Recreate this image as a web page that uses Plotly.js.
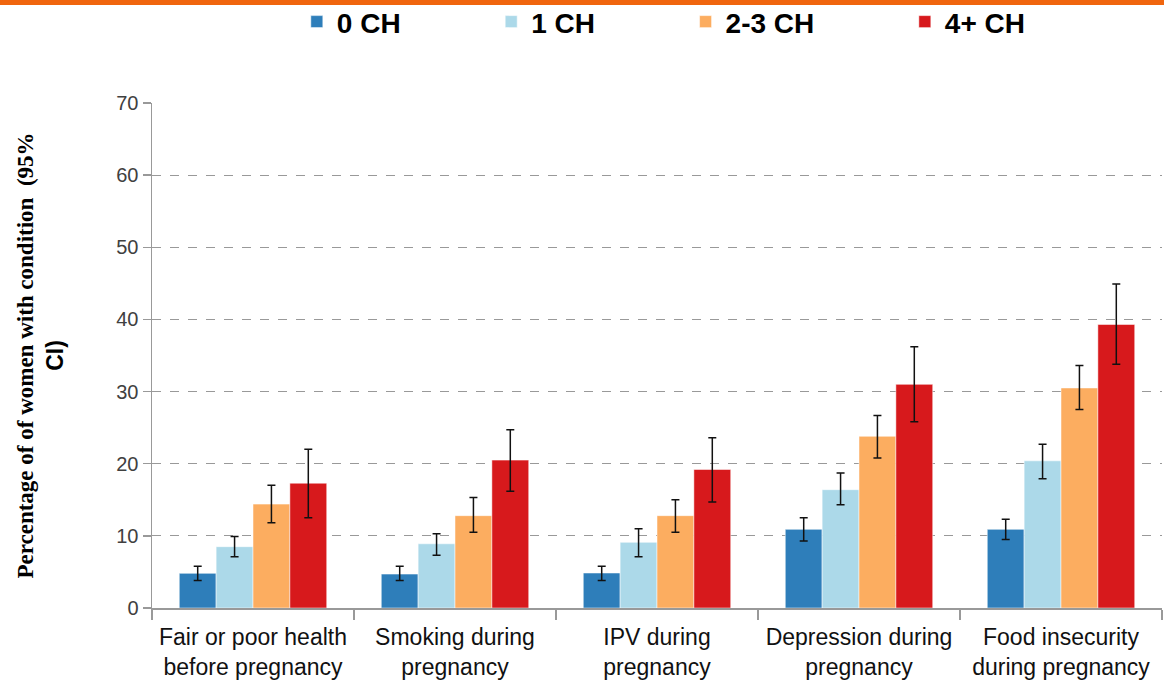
<!DOCTYPE html>
<html><head><meta charset="utf-8">
<script src="https://cdn.plot.ly/plotly-3.0.1.min.js"></script>
<style>html,body{margin:0;padding:0;background:#fff;}#chart{width:1164px;height:685px;}</style>
</head><body><div id="chart"></div>
<script>
const categories = ["Fair or poor health<br>before pregnancy","Smoking during<br>pregnancy","IPV during<br>pregnancy","Depression during<br>pregnancy","Food insecurity<br>during pregnancy"];
const seriesNames = ["0 CH","1 CH","2-3 CH","4+ CH"];
const seriesColors = ["#2E7EBA","#ACD9E9","#FCAD60","#D7191C"];
const val0 = [4.8, 4.7, 4.85, 10.9, 10.9];
const up0  = [5.8, 5.8, 5.8, 12.5, 12.3];
const lo0  = [3.8, 3.8, 3.8, 9.3, 9.5];
const val1 = [8.5, 8.9, 9.1, 16.4, 20.4];
const up1  = [9.9, 10.3, 11.0, 18.7, 22.7];
const lo1  = [7.1, 7.3, 7.1, 14.3, 17.9];
const val2 = [14.4, 12.8, 12.8, 23.8, 30.5];
const up2  = [17.0, 15.3, 15.0, 26.7, 33.6];
const lo2  = [11.8, 10.5, 10.5, 20.8, 27.5];
const val3 = [17.3, 20.5, 19.2, 31.0, 39.3];
const up3  = [22.0, 24.7, 23.6, 36.2, 44.9];
const lo3  = [12.5, 16.2, 14.7, 25.8, 33.8];
const yTicks = [0,10,20,30,40,50,60,70];

const pad = '\u00a0'.repeat(11);
const vals = [val0,val1,val2,val3], ups=[up0,up1,up2,up3], los=[lo0,lo1,lo2,lo3];
const traces = vals.map((v,i)=>({
  type:'bar', name:seriesNames[i] + (i<3 ? pad : ''), x:categories, y:v,
  marker:{color:seriesColors[i], line:{color:'rgba(255,255,255,0.5)', width:1}},
  error_y:{type:'data', symmetric:false,
    array: ups[i].map((u,j)=>u-v[j]), arrayminus: v.map((x,j)=>x-los[i][j]),
    color:'#111', thickness:1.5, width:4}
}));

const layout = {
  width:1164, height:685,
  margin:{l:152, r:2, t:103, b:77, autoexpand:false},
  paper_bgcolor:'#fff', plot_bgcolor:'#fff',
  barmode:'group', bargap:0.27, bargroupgap:0,
  showlegend:true,
  legend:{orientation:'h', xref:'container', yref:'container', x:0.255, xanchor:'left', y:0.968, yanchor:'middle',
    font:{family:'Liberation Sans Narrow, Liberation Sans, Arial', size:28, color:'#000', weight:'bold'},
    itemwidth:30, traceorder:'normal', bgcolor:'rgba(0,0,0,0)'},
  xaxis:{type:'category', showline:true, linecolor:'#999', linewidth:1.5,
    ticks:'outside', tickson:'boundaries', ticklen:10, tickcolor:'#999', tickwidth:1.5,
    tickfont:{family:'Liberation Sans Narrow, Liberation Sans, Arial', size:23, color:'#111'},
    ticklabelstandoff:8,
    showgrid:false},
  yaxis:{range:[0,70], tickvals:yTicks, ticktext:yTicks.map(String),
    showline:true, linecolor:'#999', linewidth:1.5,
    ticks:'outside', ticklen:8, tickcolor:'#999', tickwidth:1.5,
    showgrid:true, gridcolor:'#999', griddash:'dash', gridwidth:1.2,
    zeroline:false,
    tickfont:{family:'Liberation Sans, Arial', size:20, color:'#404040'},
    title:{text:'Percentage of of women with condition  (95%<br><span style="font-family:Liberation Sans Narrow, Liberation Sans">CI)</span>',
      font:{family:'Liberation Serif, Times New Roman, serif', size:23, color:'#000', weight:'bold'}, standoff:46}},
  shapes:[{type:'rect', xref:'paper', yref:'paper', x0:-0.2, x1:1.05, y0:1.194, y1:1.21,
    fillcolor:'#F0650E', line:{width:0}, layer:'above'}]
};
Plotly.newPlot('chart', traces, layout, {displayModeBar:false, staticPlot:true});
</script></body></html>
